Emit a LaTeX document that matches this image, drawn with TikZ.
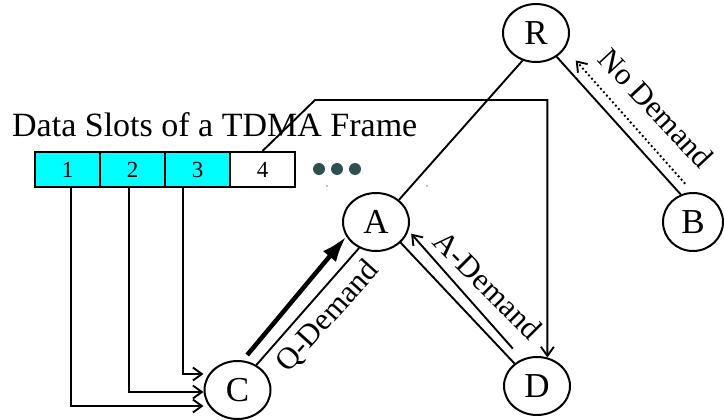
\documentclass[tikz,border=0pt]{standalone}
\usepackage{fontspec}
\setmainfont{Liberation Serif}
\usetikzlibrary{arrows.meta,shapes.geometric,calc}
\definecolor{slotcyan}{HTML}{00FFFF}
\definecolor{dotgray}{HTML}{2F4F4F}
\begin{document}
\begin{tikzpicture}[x=1pt,y=-1pt,
  station/.style={draw,ellipse,line width=2pt,minimum width=66pt,minimum height=58pt,
    inner sep=0pt,font=\fontsize{35}{35}\selectfont},
  slot/.style={draw,line width=2pt,minimum width=65pt,minimum height=35pt,
    inner sep=0pt,font=\fontsize{23}{23}\selectfont},
  link/.style={line width=1.9pt},
  tip/.style={line width=1.9pt,-{Straight Barb[length=9pt,width=13pt]}},
  lbl/.style={font=\fontsize{31}{31}\selectfont,inner sep=0pt}]
\useasboundingbox (0,0) rectangle (724,420);
\fill[white] (0,0) rectangle (724,420);

% stations
\node[station] (R) at (536,33) {R};
\node[station,minimum width=60pt] (B) at (693,222) {B};
\node[station] (A) at (376,222) {A};
\node[station] (C) at (237.5,390) {C};
\node[station] (D) at (537,386) {D};

% TDMA frame
\node[anchor=base west,inner sep=0pt,font=\fontsize{34}{34}\selectfont] (title) at (12,136) {Data Slots of a TDMA Frame};
\node[slot,fill=slotcyan] (s1) at (67.5,169.5) {1};
\node[slot,fill=slotcyan] (s2) at (132.5,169.5) {2};
\node[slot,fill=slotcyan] (s3) at (197.5,169.5) {3};
\node[slot] (s4) at (262.5,169.5) {4};
\fill[dotgray] (319,169) circle (6pt) (337,169) circle (6pt) (355,169) circle (6pt);
\fill[gray] (327,186) circle (0.8pt) (427,186) circle (0.8pt);

% tree links
\draw[link] (R.244) -- (A.44);
\draw[link] (R.-49) -- (B.114);
\draw[link] (A.-40) -- (D.135);
\draw[link] (C.53) -- (A.237);

% demand messages
\draw[tip,dash pattern=on 1.9pt off 2.6pt,shorten <=11pt,shorten >=16pt] (B.91) -- (R.-28);
\draw[tip,shorten <=14pt,shorten >=4pt] (D.119) -- (A.-15);
\draw[line width=4.5pt,-{Latex[length=26pt,width=17pt]},shorten <=7pt] (C.80) -- (A.206);

\node[lbl,rotate=-47] (nd) at (656,108) {No Demand};
\node[lbl,rotate=-45] (ad) at (488,285) {A-Demand};
\node[lbl,rotate=48] (qd) at (328,317) {Q-Demand};

% slot assignments
\draw[tip] ([xshift=3.5pt]s1.south) |- ([yshift=-16pt]C.west);
\draw[tip] ([xshift=-3.5pt]s2.south) |- ([yshift=-2pt]C.west);
\draw[tip] ([xshift=-14.5pt]s3.south) |- ([yshift=16pt]C.west);
\coordinate (bend) at (315,100);
\draw[tip] (s4.north) -- (bend) -| (D.70);
\end{tikzpicture}
\end{document}
